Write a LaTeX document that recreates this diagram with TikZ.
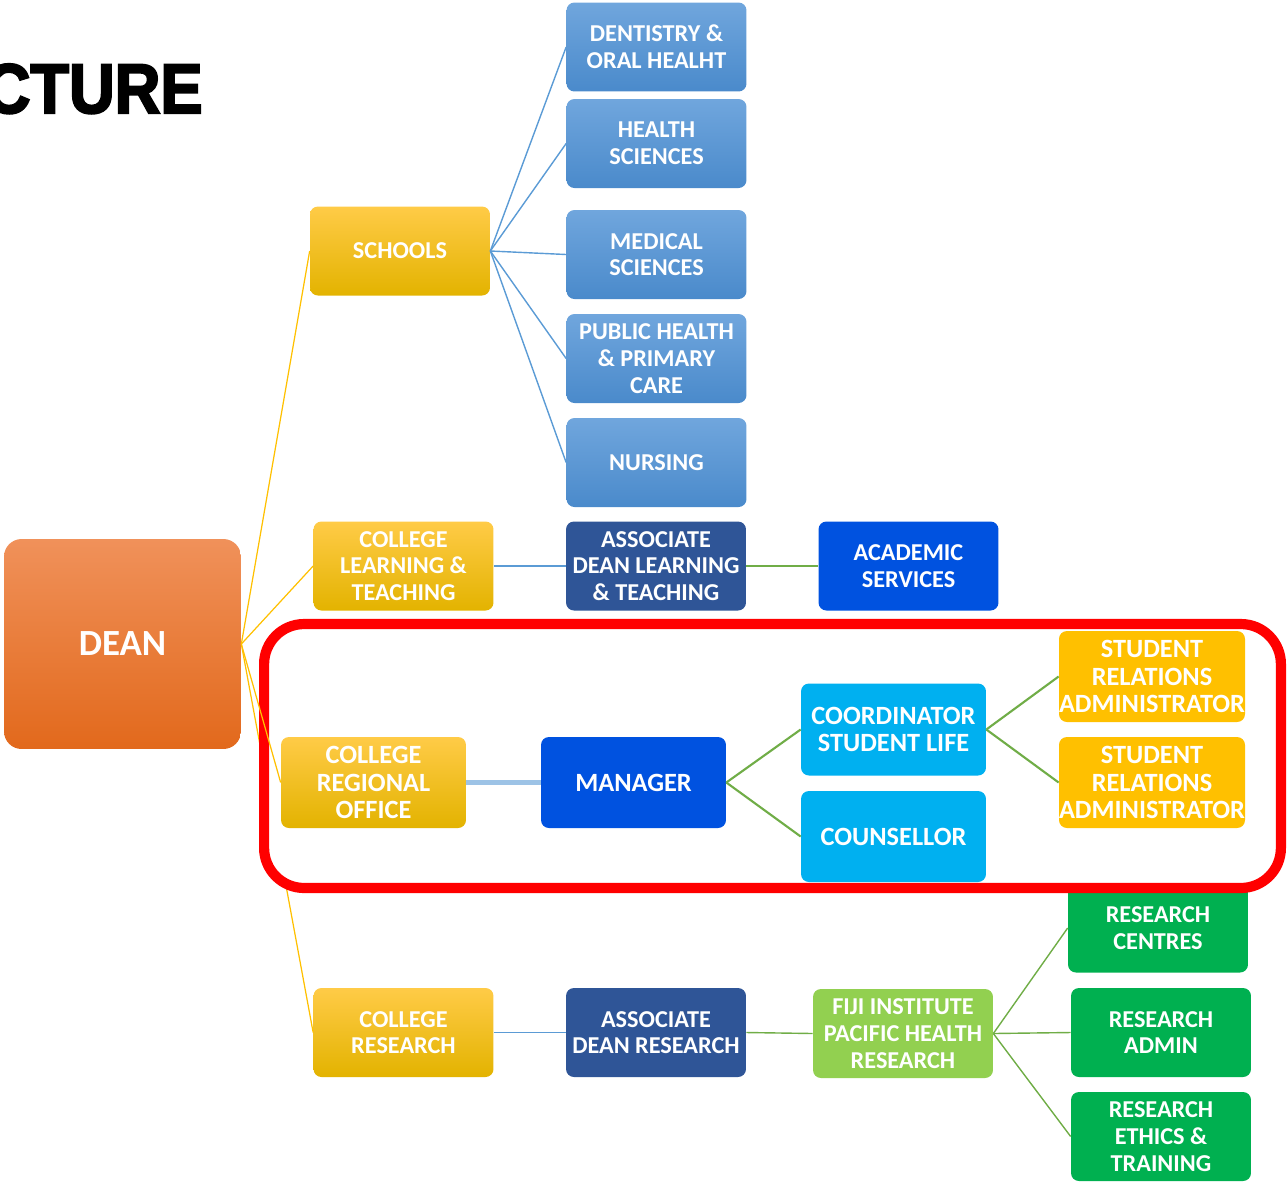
\documentclass[tikz,border=0pt]{standalone}
\usepackage{fontspec}
\setmainfont{Carlito}
\newfontfamily\titlefont[FakeStretch=0.9,FakeBold=3]{Liberation Sans}

\definecolor{naranjaclaro}{HTML}{F0915A}
\definecolor{naranja}{HTML}{F47E2A}
\definecolor{naranjaoscuro}{HTML}{E2691C}
\definecolor{amarilloclaro}{HTML}{FFCB47}
\definecolor{amarillo}{HTML}{FFC000}
\definecolor{amarillooscuro}{HTML}{E3B300}
\definecolor{azulclaro}{HTML}{70A6DD}
\definecolor{azulmedio}{HTML}{4A8ACB}
\definecolor{azuloscuro}{HTML}{2F5597}
\definecolor{azulfuerte}{HTML}{0052E0}
\definecolor{cian}{HTML}{00B0F0}
\definecolor{verde}{HTML}{00B050}
\definecolor{verdeclaro}{HTML}{92D050}
\definecolor{azullinea}{HTML}{5B9BD5}
\definecolor{verdelinea}{HTML}{70AD47}
\definecolor{azulpalido}{HTML}{9DC3E6}

\tikzstyle{caja}= [rectangle,rounded corners=4.5pt,text=white,align=center,inner sep=0pt,font=\bfseries\fontsize{13.8}{15.2}\selectfont,minimum width=3.6cm,minimum height=1.78cm]
\tikzstyle{decano}= [caja,rounded corners=10pt,minimum width=4.74cm,minimum height=4.2cm,top color=naranjaclaro,middle color=naranja,bottom color=naranjaoscuro,font=\bfseries\fontsize{21}{24}\selectfont]
\tikzstyle{colegio}= [caja,top color=amarilloclaro,middle color=amarillo,bottom color=amarillooscuro]
\tikzstyle{escuela}= [caja,top color=azulclaro,bottom color=azulmedio]
\tikzstyle{asociado}= [caja,fill=azuloscuro]
\tikzstyle{servicio}= [caja,fill=azulfuerte]
\tikzstyle{celeste}= [caja,fill=cian,minimum width=3.7cm,minimum height=1.84cm]
\tikzstyle{relaciones}= [caja,fill=amarillo,minimum width=3.72cm,minimum height=1.82cm]
\tikzstyle{instituto}= [caja,fill=verdeclaro]
\tikzstyle{investigacion}= [caja,fill=verde]
\tikzstyle{enmarcado}= [font=\bfseries\fontsize{15}{15.6}\selectfont]
\tikzstyle{marcorojo}= [rectangle,draw=red,fill=white,line width=5.8pt,rounded corners=0.8cm,minimum width=20.34cm,minimum height=5.28cm]

\tikzstyle{ramaamarilla}= [draw=amarillo,line width=0.7pt]
\tikzstyle{ramaazul}= [draw=azullinea,line width=0.8pt]
\tikzstyle{ramaverde}= [draw=verdelinea,line width=0.8pt]
\tikzstyle{ramaverdegruesa}= [draw=verdelinea,line width=1.2pt]
\tikzstyle{ramapalida}= [draw=azulpalido,line width=2.8pt]

\begin{document}
\begin{tikzpicture}[x=0.02cm,y=-0.02cm]
		\useasboundingbox (0,0) rectangle (1288,1181);

		\node (titulo) at (203,113) [anchor=base east,inner sep=0pt,font=\titlefont\bfseries\fontsize{40}{40}\selectfont] {CTURE};

		\node (dean) at (122.5,644) [decano] {DEAN};

		\node (escuelas) at (400,251) [colegio] {SCHOOLS};
		\node (aprendizaje) at (403.5,566) [colegio] {COLLEGE\\LEARNING \&\\TEACHING};
		\node (investig) at (403.5,1032.5) [colegio] {COLLEGE\\RESEARCH};

		\node (dental) at (656.5,47) [escuela] {DENTISTRY \&\\ORAL HEALHT};
		\node (salud) at (656.5,143.5) [escuela] {HEALTH\\SCIENCES};
		\node (medicas) at (656.5,254.5) [escuela] {MEDICAL\\SCIENCES};
		\node (publica) at (656.5,358.5) [escuela] {PUBLIC HEALTH\\\& PRIMARY\\CARE};
		\node (enfermeria) at (656.5,462.5) [escuela] {NURSING};

		\node (adlt) at (656,566) [asociado] {ASSOCIATE\\DEAN LEARNING\\\& TEACHING};
		\node (academicos) at (908.5,566) [servicio] {ACADEMIC\\SERVICES};

		\node (adr) at (656,1032.5) [asociado] {ASSOCIATE\\DEAN RESEARCH};
		\node (fiji) at (903,1033.5) [instituto] {FIJI INSTITUTE\\PACIFIC HEALTH\\RESEARCH};
		\node (centros) at (1158,928) [investigacion] {RESEARCH\\CENTRES};
		\node (admin) at (1161,1032.5) [investigacion] {RESEARCH\\ADMIN};
		\node (etica) at (1161,1136.5) [investigacion] {RESEARCH\\ETHICS \&\\TRAINING};

		\path[ramaamarilla] (dean.east) edge[] node {} (escuelas.west);
		\path[ramaamarilla] (dean.east) edge[] node {} (aprendizaje.west);
		\path[ramaamarilla] (dean.east) edge[] node {} (investig.west);

		\path[ramaazul] (escuelas.east) edge[] node {} (dental.west);
		\path[ramaazul] (escuelas.east) edge[] node {} (salud.west);
		\path[ramaazul] (escuelas.east) edge[] node {} (medicas.west);
		\path[ramaazul] (escuelas.east) edge[] node {} (publica.west);
		\path[ramaazul] (escuelas.east) edge[] node {} (enfermeria.west);

		\path[ramaazul] (aprendizaje.east) edge[] node {} (adlt.west);
		\path[ramaverde] (adlt.east) edge[] node {} (academicos.west);

		\path[ramaazul] (investig.east) edge[] node {} (adr.west);
		\path[ramaverde] (adr.east) edge[] node {} (fiji.west);
		\path[ramaverde] (fiji.east) edge[] node {} (centros.west);
		\path[ramaverde] (fiji.east) edge[] node {} (admin.west);
		\path[ramaverde] (fiji.east) edge[] node {} (etica.west);

		% regional office, framed in red
		\node (marco) at (772.5,756) [marcorojo] {};

		\node (regional) at (373.5,782.5) [colegio,enmarcado,minimum width=3.7cm,minimum height=1.82cm] {COLLEGE\\REGIONAL\\OFFICE};
		\node (gerente) at (633.5,782.5) [servicio,enmarcado,minimum width=3.7cm,minimum height=1.82cm] {MANAGER};
		\node (coordinador) at (893.5,729.5) [celeste,enmarcado] {COORDINATOR\\STUDENT LIFE};
		\node (consejero) at (893.5,836.5) [celeste,enmarcado,minimum height=1.82cm] {COUNSELLOR};
		\node (relaciones1) at (1152,676.5) [relaciones,enmarcado] {STUDENT\\RELATIONS\\ADMINISTRATOR};
		\node (relaciones2) at (1152,782.5) [relaciones,enmarcado] {STUDENT\\RELATIONS\\ADMINISTRATOR};

		\path[ramaamarilla] (dean.east) edge[] node {} (regional.west);
		\path[ramapalida] (regional.east) edge[] node {} (gerente.west);
		\path[ramaverdegruesa] (gerente.east) edge[] node {} (coordinador.west);
		\path[ramaverdegruesa] (gerente.east) edge[] node {} (consejero.west);
		\path[ramaverdegruesa] (coordinador.east) edge[] node {} (relaciones1.west);
		\path[ramaverdegruesa] (coordinador.east) edge[] node {} (relaciones2.west);

	\end{tikzpicture}
\end{document}
